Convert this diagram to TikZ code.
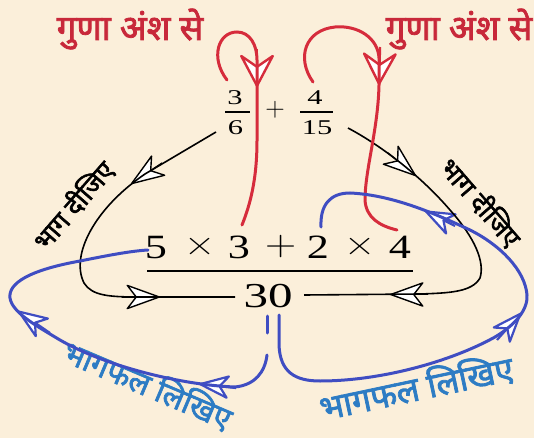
\documentclass[tikz,border=0pt]{standalone}
\usepackage{fontspec}
\usepackage{graphicx}
\usetikzlibrary{arrows.meta}
\newfontfamily\devfont[Script=Devanagari, FakeBold=2.2]{Noto Sans}
\newfontfamily\numfont{Liberation Serif}
\newfontfamily\opfont{Latin Modern Roman}
\definecolor{bgc}{HTML}{FBEFDA}
\definecolor{redc}{HTML}{D62C3C}
\definecolor{titlered}{HTML}{C8283A}
\definecolor{bluec}{HTML}{3F4DC2}
\definecolor{bluetext}{HTML}{2D7CC4}
\tikzset{
  redline/.style={draw=redc, line width=3pt, line cap=round},
  blueline/.style={draw=bluec, line width=3pt, line cap=round},
  blackline/.style={draw=black, line width=1.6pt},
  redhead/.style={draw=redc, line width=2.4pt, -{Stealth[length=36pt,width=38pt,inset=13pt,fill=white,round]}},
  blackhead/.style={draw=black, line width=1.4pt, -{Stealth[length=36pt,width=26pt,inset=10pt,fill=white,round]}},
  bluehead/.style={draw=bluec, line width=2.2pt, -{Stealth[length=34pt,width=26pt,inset=10pt,fill=white,round]}},
  titletext/.style={font=\devfont\fontsize{35}{40}\selectfont, text=titlered, inner sep=0pt},
  dtext/.style={font=\devfont\fontsize{26}{30}\selectfont, text=black, inner sep=0pt},
  btext/.style={font=\devfont\fontsize{31}{36}\selectfont, text=bluetext, inner sep=0pt},
  smallnum/.style={font=\numfont\fontsize{21}{24}\selectfont, inner sep=0pt, anchor=base},
  bignum/.style={font=\numfont\fontsize{34}{40}\selectfont, inner sep=0pt, anchor=base},
  bigop/.style={font=\opfont\fontsize{36}{40}\selectfont, inner sep=0pt},
  fracbar/.style={draw=black, line width=1.3pt},
}
\newcommand{\widedigits}[1]{\scalebox{1.3}[1]{#1}}
\newcommand{\widesmall}[1]{\scalebox{1.45}[1]{#1}}
\newcommand{\wideop}[1]{\scalebox{1.2}[1]{#1}}
\begin{document}
\begin{tikzpicture}[x=1pt,y=-1pt]
\useasboundingbox (0,0) rectangle (534,438);
\fill[bgc] (0,0) rectangle (534,438);

% titles
\node[titletext] (tl) at (130,29) {गुणा अंश से};
\node[titletext] (tr) at (459,29) {गुणा अंश से};

% small fractions
\node[smallnum] (a3) at (235,105) {\widesmall{3}};
\node[smallnum] (a6) at (235.5,135) {\widesmall{6}};
\draw[fracbar] (225,112) -- (250,112);
\node[inner sep=0pt, font=\opfont\fontsize{27}{30}\selectfont] (plus) at (275,110) {+};
\node[smallnum] (b4) at (315,105) {\widesmall{4}};
\node[smallnum] (b15) at (317,135) {\widesmall{15}};
\draw[fracbar] (300,112) -- (333,112);

% big fraction
\node[bignum] (n1) at (156,258) {\widedigits{5}};
\node[bigop] (n2) at (200,247) {\wideop{×}};
\node[bignum] (n3) at (239,258) {\widedigits{3}};
\node[bigop] (n4) at (281,247) {\wideop{+}};
\node[bignum] (n5) at (318,258) {\widedigits{2}};
\node[bigop] (n6) at (360,247) {\wideop{×}};
\node[bignum] (n7) at (400,258) {\widedigits{4}};
\draw[fracbar, line width=1.8pt] (147,271) -- (413,271);
\node[bignum, font=\numfont\fontsize{35}{40}\selectfont] (d30) at (268,307) {\scalebox{1.4}[1]{30}};

% rotated labels
\node[dtext, rotate=49] (bd1) at (73,205) {भाग दीजिए};
\node[dtext, rotate=-49] (bd2) at (481,202) {भाग दीजिए};
\node[btext, rotate=-23] (bt1) at (148,384) {भागफल लिखिए};
\node[btext, rotate=12, font=\devfont\fontsize{34}{38}\selectfont] (bt2) at (416,387) {भागफल लिखिए};

% coordinates
\coordinate (kl0) at (216,132);
\coordinate (kl1) at (235,297);
\coordinate (kr0) at (348,128);
\coordinate (kr1) at (304,295);
\coordinate (rl0) at (227,80);
\coordinate (rl1) at (242,225);
\coordinate (rr0) at (313,82);
\coordinate (rr1) at (397,230);
\coordinate (bl0) at (267,316);
\coordinate (bl1) at (148,250);
\coordinate (br0) at (279,315);
\coordinate (br1) at (321,227);

% arrow heads
\draw[blackhead] (162,163) -- (131,184);
\draw[blackhead] (122,297) -- (160,297);
\draw[blackhead] (388,153) -- (416,176);
\draw[blackhead] (428,294.5) -- (390,294.5);
\draw[redhead] (257,49) -- (257,87);
\draw[redhead] (380,47) -- (379,85);
\draw[bluehead] (236,388) -- (199,384);
\draw[bluehead] (50,333) -- (18,311);
\draw[bluehead] (497,340) -- (521,313);
\draw[bluehead] (455,226) -- (425,211);

% black connectors
\draw[blackline] (kl0) -- (145,174) .. controls (95,208) and (70,255) .. (84,283) .. controls (92,296) and (110,297) .. (140,297) -- (kl1);
\draw[blackline] (kr0) .. controls (380,145) and (420,175) .. (450,210) .. controls (475,238) and (485,262) .. (480,278) .. controls (472,292) and (450,293) .. (420,294) -- (kr1);

% red connectors
\draw[redline] (rl0) .. controls (210,58) and (218,32) .. (237,32) .. controls (250,32) and (257,45) .. (257,60) -- (257,140) .. controls (257,180) and (250,205) .. (rl1);
\draw[redline] (rr0) .. controls (296,58) and (305,30) .. (335,27) .. controls (358,25) and (378,38) .. (379,58) -- (379,85) .. controls (378,130) and (365,170) .. (365,200) .. controls (366,218) and (380,226) .. (rr1);

% blue connectors
\draw[blueline] (bl0) -- (267,333);
\draw[blueline] (267,355) .. controls (265,372) and (255,385) .. (235,387) .. controls (180,385) and (100,365) .. (55,337) .. controls (35,325) and (12,312) .. (10,298) .. controls (8,283) and (30,270) .. (80,261) .. controls (105,256) and (130,251) .. (bl1);
\draw[blueline] (br0) -- (279,345) .. controls (280,372) and (295,381) .. (320,381) .. controls (380,381) and (450,362) .. (495,337) .. controls (515,325) and (528,310) .. (527,295) .. controls (525,270) and (500,245) .. (470,230) .. controls (440,216) and (395,195) .. (350,193) .. controls (330,193) and (320,205) .. (br1);
\end{tikzpicture}
\end{document}
